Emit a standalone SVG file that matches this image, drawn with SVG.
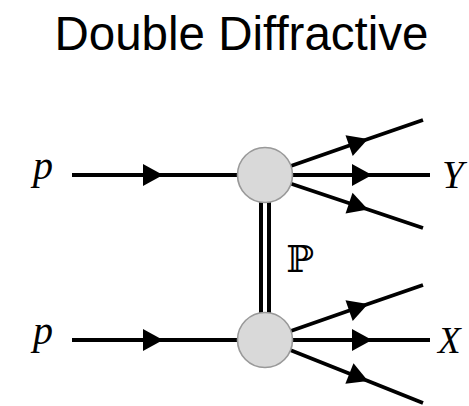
<svg xmlns="http://www.w3.org/2000/svg" width="469" height="406" viewBox="0 0 469 406">
<style>
.ln{fill:none;stroke:#000;stroke-width:3.8;marker-mid:url(#ah)}
.pl{fill:none;stroke:#000;stroke-width:4}
.blob{fill:#d9d9d9;stroke:#999;stroke-width:1.6}
.lab{font-family:"Liberation Serif","DejaVu Serif",serif;font-style:italic;fill:#000}
.title{font-family:"Liberation Sans",Arial,sans-serif;font-size:47.5px;fill:#000}
</style>
<defs>
<marker id="ah" markerUnits="userSpaceOnUse" markerWidth="22" markerHeight="24" viewBox="0 0 22 24" refX="21" refY="12" orient="auto">
<path d="M1,1 L21,12 L1,23 Z" fill="#000"/>
</marker>
</defs>
<rect width="469" height="406" fill="#fff"/>
<text class="title" x="241.5" y="50" text-anchor="middle">Double Diffractive</text>
<g id="connectors">
<path class="ln" d="M72,175 L163,175 L240,175"/>
<path class="ln" d="M265,175 L368,139 L423,120"/>
<path class="ln" d="M265,175 L372,175 L430,175"/>
<path class="ln" d="M265,175 L368,209.5 L423,228"/>
<path class="ln" d="M72,340 L163,340 L240,340"/>
<path class="ln" d="M265,340 L368,304 L423,285"/>
<path class="ln" d="M265,340 L372,340 L430,340"/>
<path class="ln" d="M265,340 L368,381 L423,403"/>
<g id="pomeron">
<line class="pl" x1="261" y1="200" x2="261" y2="314"/>
<line class="pl" x1="269" y1="200" x2="269" y2="314"/>
</g>
</g>
<g id="top-vertex"><circle class="blob" cx="265" cy="175" r="27.5"/></g>
<g id="bottom-vertex"><circle class="blob" cx="265" cy="340" r="27.5"/></g>
<g id="labels">
<text class="lab" x="33" y="179" font-size="40">p</text>
<text class="lab" x="442" y="188" font-size="39">Y</text>
<text class="lab" x="33" y="344" font-size="40">p</text>
<text class="lab" x="438" y="353" font-size="37">X</text>
<text x="286" y="272" font-family="'DejaVu Serif','DejaVu Sans',serif" font-size="37" fill="#000">ℙ</text>
</g>
</svg>
